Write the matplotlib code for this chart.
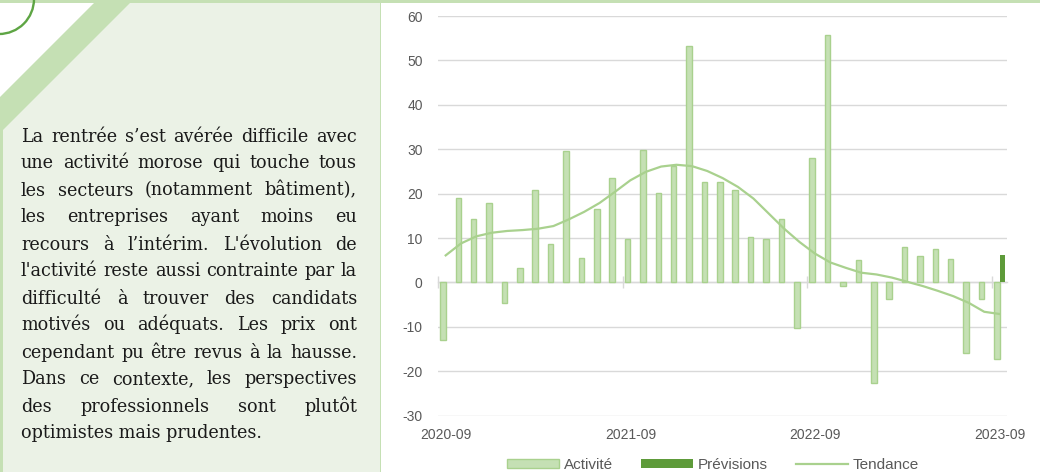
import numpy as np
import matplotlib
matplotlib.use('Agg')
import matplotlib.pyplot as plt
from matplotlib.patches import Polygon, Rectangle, Circle, Patch
from matplotlib.lines import Line2D

# Données
mois = ['2020-09', '2020-10', '2020-11', '2020-12', '2021-01', '2021-02', '2021-03',
        '2021-04', '2021-05', '2021-06', '2021-07', '2021-08', '2021-09', '2021-10',
        '2021-11', '2021-12', '2022-01', '2022-02', '2022-03', '2022-04', '2022-05',
        '2022-06', '2022-07', '2022-08', '2022-09', '2022-10', '2022-11', '2022-12',
        '2023-01', '2023-02', '2023-03', '2023-04', '2023-05', '2023-06', '2023-07',
        '2023-08', '2023-09']
activite = [-13.0, 19.0, 14.3, 17.9, -4.6, 3.3, 20.8, 8.7, 29.7, 5.5, 16.5, 23.6,
            9.7, 29.8, 20.2, 26.2, 53.2, 22.6, 22.6, 20.9, 10.3, 9.7, 14.2, -10.3,
            28.0, 55.8, -0.7, 5.1, -22.6, -3.7, 8.0, 5.9, 7.6, 5.3, -15.9, -3.8, -17.2]
tendance = [6.1, 8.8, 10.4, 11.2, 11.6, 11.8, 12.1, 12.7, 14.2, 15.9, 17.9, 20.4,
            23.0, 24.9, 26.1, 26.5, 26.2, 25.1, 23.5, 21.5, 18.9, 15.5, 12.1, 9.1,
            6.5, 4.5, 3.3, 2.2, 1.8, 1.1, 0.15, -0.8, -1.9, -3.1, -4.6, -6.6, -7.1]
previsions_mois = ['2023-09']
previsions = [6.1]
etiquettes_x = ['2020-09', '2021-09', '2022-09', '2023-09']
graduations_y = [-30, -20, -10, 0, 10, 20, 30, 40, 50, 60]

lignes = [
    "La rentrée s’est avérée difficile avec",
    "une activité morose qui touche tous",
    "les secteurs (notamment bâtiment),",
    "les entreprises ayant moins eu",
    "recours à l’intérim. L'évolution de",
    "l'activité reste aussi contrainte par la",
    "difficulté à trouver des candidats",
    "motivés ou adéquats. Les prix ont",
    "cependant pu être revus à la hausse.",
    "Dans ce contexte, les perspectives",
    "des professionnels sont plutôt",
    "optimistes mais prudentes.",
]

W, H = 1040, 472
VERT_CLAIR = '#c5e0b4'
VERT_BORD = '#a9d18e'
VERT_FONCE = '#5e9b3a'
GRIS = '#595959'
GRILLE = '#d9d9d9'

fig = plt.figure(figsize=(W / 100, H / 100), dpi=100)

# --- fond / panneau de gauche (coordonnées en pixels) ---
fond = fig.add_axes([0, 0, 1, 1])
fond.set_xlim(0, W)
fond.set_ylim(H, 0)
fond.axis('off')
fond.add_patch(Rectangle((0, 0), W, 3, color=VERT_CLAIR, lw=0))
fond.add_patch(Polygon([(97, 0), (381, 0), (381, H), (0, H), (0, 97)], closed=True,
                       color=VERT_CLAIR, lw=0))
fond.add_patch(Polygon([(130, 3), (379.5, 3), (379.5, H), (3, H), (3, 130)], closed=True,
                       color='#ebf2e6', lw=0))
fond.add_patch(Circle((-1, -1), 35, fill=False, ec='#5ea544', lw=1.7))

# texte justifié
police = 'DejaVu Serif'
gauche, droite = 21, 357
y0, pas = 141.5, 27.0
renderer = fig.canvas.get_renderer()

# taille de police ajustée pour que la ligne la plus serrée tienne dans la colonne
essais = [fond.text(0, 0, l, fontsize=10, family=police) for l in lignes[:-1]]
plus_large = max(t.get_window_extent(renderer).width for t in essais)
for t in essais:
    t.remove()
taille = 10 * (droite - gauche) / plus_large

for k, ligne in enumerate(lignes):
    y = y0 + k * pas
    mots = ligne.split(' ')
    if k == len(lignes) - 1:
        fond.text(gauche, y, ligne, fontsize=taille, family=police, color='#1a1a1a',
                  va='baseline', ha='left')
        continue
    objs = [fond.text(0, y, m, fontsize=taille, family=police, color='#1a1a1a',
                      va='baseline', ha='left') for m in mots]
    larg = [o.get_window_extent(renderer).width for o in objs]
    espace = (droite - gauche - sum(larg)) / (len(mots) - 1)
    x = gauche
    for o, l in zip(objs, larg):
        o.set_x(x)
        x += l + espace

# --- graphique ---
ax = fig.add_axes([438 / W, (H - 415.7) / H, (1007.3 - 438) / W, (415.7 - 16) / H])
x = np.arange(len(mois))
largeur = 0.36
ax.bar(x - largeur / 2, activite, width=largeur, color=VERT_CLAIR, edgecolor=VERT_BORD,
       linewidth=1.0, zorder=3)
xp = [mois.index(m) for m in previsions_mois]
ax.bar(np.array(xp) + largeur / 2, previsions, width=largeur, color=VERT_FONCE,
       linewidth=0, zorder=3)
ax.plot(x, tendance, color=VERT_BORD, lw=1.6, zorder=4)

ax.set_xlim(-0.5, len(mois) - 0.5)
ax.set_ylim(-30, 60)
ax.set_yticks(graduations_y)
ax.set_yticklabels([str(v) for v in graduations_y])
ax.set_xticks([mois.index(m) for m in etiquettes_x])
ax.set_xticklabels(etiquettes_x)
ax.tick_params(axis='both', length=0, labelsize=10, labelcolor=GRIS)
ax.tick_params(axis='y', pad=11)
ax.tick_params(axis='x', pad=9)
for lab in ax.get_xticklabels() + ax.get_yticklabels():
    lab.set_family('Liberation Sans')
ax.grid(axis='y', color=GRILLE, lw=1.0, zorder=0)
for s in ax.spines.values():
    s.set_visible(False)

# axe horizontal au niveau zéro avec ses petites graduations
axe0 = ax.secondary_xaxis(30 / 90)
axe0.set_xticks([mois.index(m) - 0.5 for m in etiquettes_x])
axe0.set_xticklabels([])
axe0.tick_params(direction='inout', length=8, color=GRILLE, width=1.0)
axe0.spines['bottom'].set_color(GRILLE)
axe0.spines['bottom'].set_linewidth(1.0)
axe0.spines['top'].set_visible(False)

poignees = [Patch(facecolor=VERT_CLAIR, edgecolor=VERT_BORD, lw=1.0),
            Patch(facecolor=VERT_FONCE, edgecolor='none'),
            Line2D([], [], color=VERT_BORD, lw=1.6)]
leg = fig.legend(poignees, ['Activité', 'Prévisions', 'Tendance'], ncol=3,
                 loc='center', bbox_to_anchor=(713 / W, (H - 465) / H), frameon=False,
                 prop={'family': 'Liberation Sans', 'size': 11}, labelcolor=GRIS,
                 handlelength=3.4, handleheight=0.6, handletextpad=0.35,
                 columnspacing=1.8, borderpad=0)

fig.savefig('out.png', dpi=100)
